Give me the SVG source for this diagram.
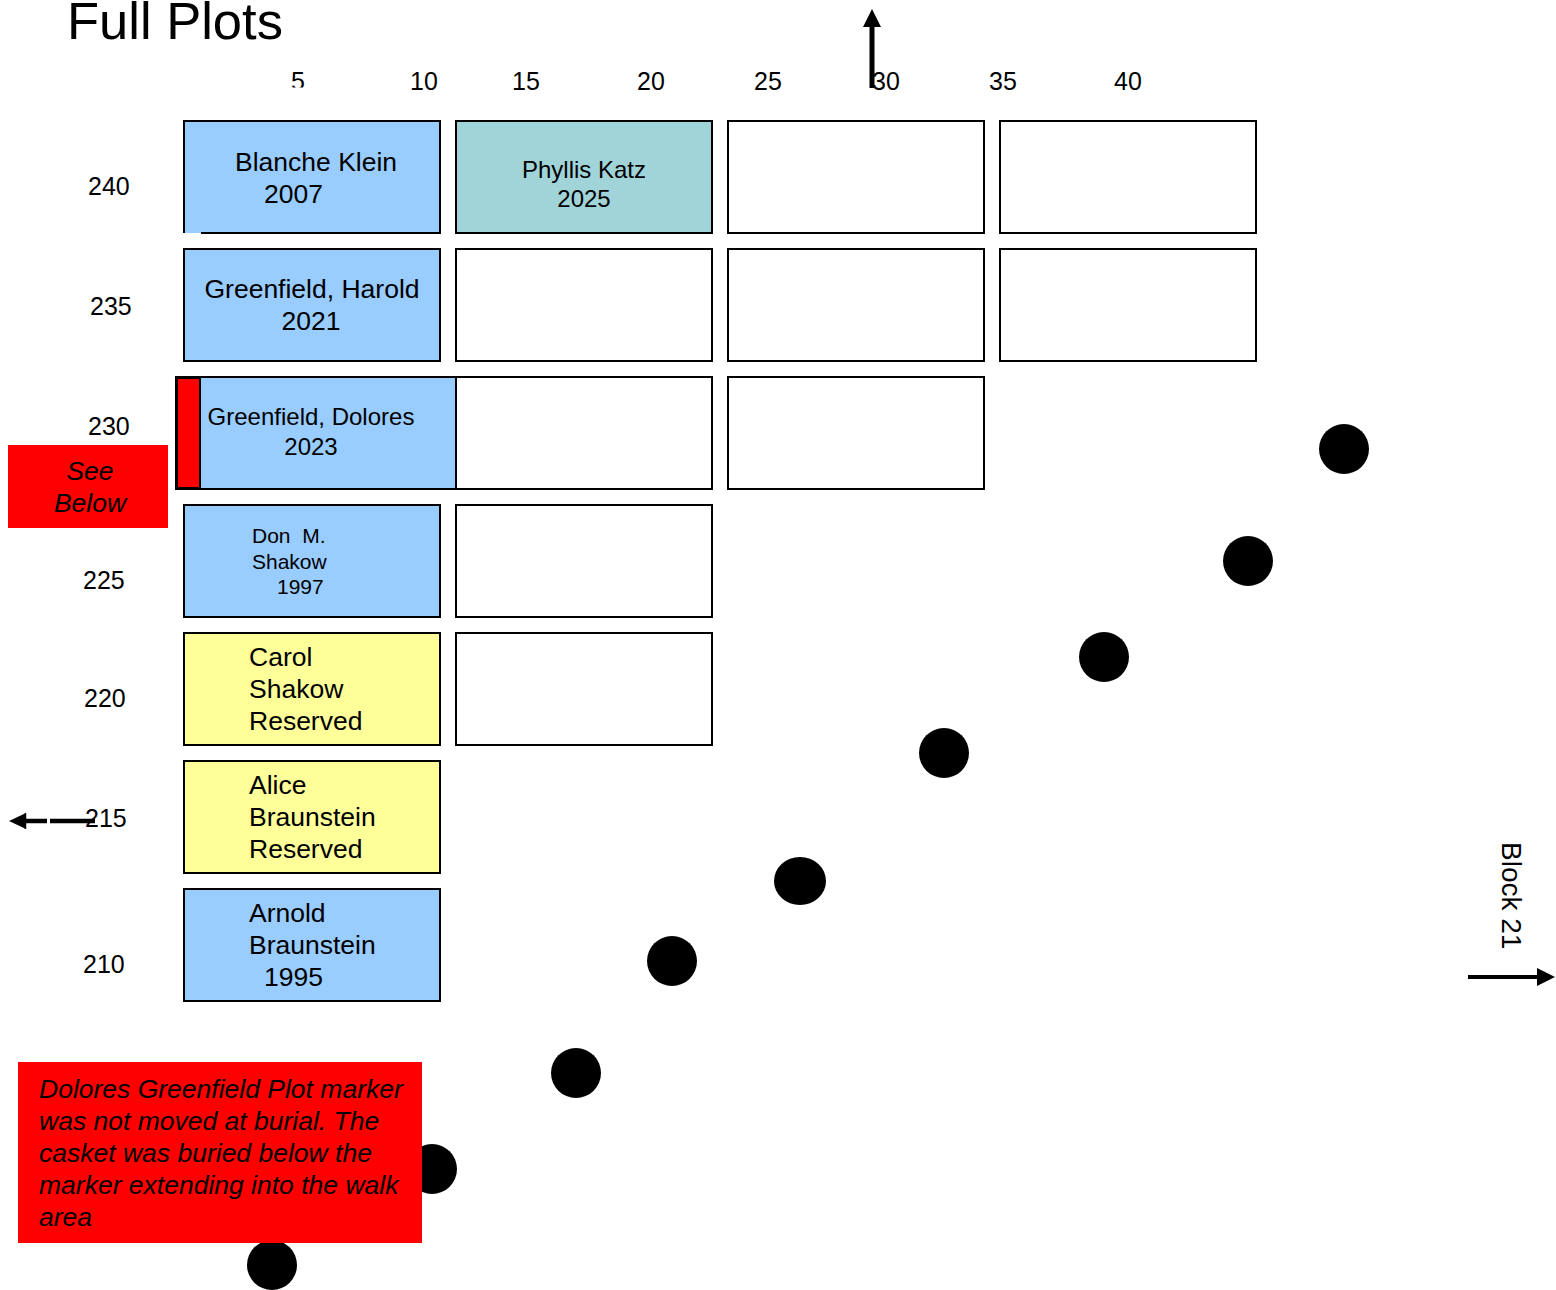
<svg xmlns="http://www.w3.org/2000/svg" width="1556" height="1290" viewBox="0 0 1556 1290">
<style>
text{font-family:"Liberation Sans",Arial,sans-serif;fill:#000}
.ax{font-size:25px}
.lab{font-size:26.5px}
.box{stroke:#000;stroke-width:2}
.blue{fill:#99ccff}
.teal{fill:#a0d4d8}
.yel{fill:#ffff99}
.empty{fill:#fff}
.dot{fill:#000}
.note{font-size:26.5px;font-style:italic}
</style>
<defs>
<clipPath id="clip5"><rect x="280" y="60" width="40" height="27.5"/></clipPath>
</defs>
<rect width="1556" height="1290" fill="#fff"/>
<text x="67" y="39" font-size="52.5">Full Plots</text>
<g id="xaxis" class="ax">
<text x="291" y="90" clip-path="url(#clip5)">5</text>
<text x="410" y="90">10</text>
<text x="512" y="90">15</text>
<text x="637" y="90">20</text>
<text x="754" y="90">25</text>
<text x="872" y="90">30</text>
<text x="989" y="90">35</text>
<text x="1114" y="90">40</text>
</g>
<g id="yaxis" class="ax">
<text x="88" y="195">240</text>
<text x="90" y="315">235</text>
<text x="88" y="435">230</text>
<text x="83" y="589">225</text>
<text x="84" y="707">220</text>
<text x="85" y="827">215</text>
<text x="83" y="973">210</text>
</g>
<g id="dots">
<circle class="dot" cx="1344" cy="449" r="25"/>
<circle class="dot" cx="1248" cy="561" r="25"/>
<circle class="dot" cx="1104" cy="657" r="25"/>
<circle class="dot" cx="944" cy="753" r="25"/>
<ellipse class="dot" cx="800" cy="881" rx="26" ry="24"/>
<circle class="dot" cx="672" cy="961" r="25"/>
<circle class="dot" cx="576" cy="1073" r="25"/>
<circle class="dot" cx="432" cy="1169" r="25"/>
<circle class="dot" cx="272" cy="1265" r="25"/>
</g>
<g id="plot-blanche-klein">
<rect class="blue" x="184" y="121" width="256" height="112"/>
<path d="M201 233 H440 V121 H184 V233" fill="none" stroke="#000" stroke-width="2"/>
<text class="lab" x="235" y="171">Blanche Klein</text>
<text class="lab" x="264" y="203">2007</text>
</g>
<g id="plot-phyllis-katz">
<rect class="box teal" x="456" y="121" width="256" height="112"/>
<text x="584" y="178" font-size="24" text-anchor="middle">Phyllis Katz</text>
<text x="584" y="207" font-size="24" text-anchor="middle">2025</text>
</g>
<g id="plot-r240-c3"><rect class="box empty" x="728" y="121" width="256" height="112"/></g>
<g id="plot-r240-c4"><rect class="box empty" x="1000" y="121" width="256" height="112"/></g>
<g id="plot-greenfield-harold">
<rect class="box blue" x="184" y="249" width="256" height="112"/>
<text class="lab" x="312" y="298" text-anchor="middle">Greenfield, Harold</text>
<text class="lab" x="311" y="330" text-anchor="middle">2021</text>
</g>
<g id="plot-r235-c2"><rect class="box empty" x="456" y="249" width="256" height="112"/></g>
<g id="plot-r235-c3"><rect class="box empty" x="728" y="249" width="256" height="112"/></g>
<g id="plot-r235-c4"><rect class="box empty" x="1000" y="249" width="256" height="112"/></g>
<g id="plot-greenfield-dolores">
<rect class="box blue" x="176" y="377" width="280" height="112"/>
<rect x="177" y="378" width="23" height="110" fill="#ff0000" stroke="#000" stroke-width="2"/>
<text x="311" y="425" font-size="24" text-anchor="middle">Greenfield, Dolores</text>
<text x="311" y="455" font-size="24" text-anchor="middle">2023</text>
</g>
<g id="plot-r230-c2"><rect class="box empty" x="456" y="377" width="256" height="112"/></g>
<g id="plot-r230-c3"><rect class="box empty" x="728" y="377" width="256" height="112"/></g>
<g id="plot-don-shakow">
<rect class="box blue" x="184" y="505" width="256" height="112"/>
<text x="252" y="543" font-size="21" xml:space="preserve">Don  M.</text>
<text x="252" y="569" font-size="21">Shakow</text>
<text x="277" y="594" font-size="21">1997</text>
</g>
<g id="plot-r225-c2"><rect class="box empty" x="456" y="505" width="256" height="112"/></g>
<g id="plot-carol-shakow">
<rect class="box yel" x="184" y="633" width="256" height="112"/>
<text class="lab" x="249" y="666">Carol</text>
<text class="lab" x="249" y="698">Shakow</text>
<text class="lab" x="249" y="730">Reserved</text>
</g>
<g id="plot-r220-c2"><rect class="box empty" x="456" y="633" width="256" height="112"/></g>
<g id="plot-alice-braunstein">
<rect class="box yel" x="184" y="761" width="256" height="112"/>
<text class="lab" x="249" y="794">Alice</text>
<text class="lab" x="249" y="826">Braunstein</text>
<text class="lab" x="249" y="858">Reserved</text>
</g>
<g id="plot-arnold-braunstein">
<rect class="box blue" x="184" y="889" width="256" height="112"/>
<text class="lab" x="249" y="922">Arnold</text>
<text class="lab" x="249" y="954">Braunstein</text>
<text class="lab" x="264" y="986">1995</text>
</g>
<g id="see-below">
<rect x="8" y="445" width="160" height="83" fill="#ff0000"/>
<text class="note" x="90" y="480" text-anchor="middle">See</text>
<text class="note" x="90" y="512" text-anchor="middle">Below</text>
</g>
<g id="note-dolores">
<rect x="18" y="1062" width="404" height="181" fill="#ff0000"/>
<text class="note" x="39" y="1098">Dolores Greenfield Plot marker</text>
<text class="note" x="39" y="1130">was not moved at burial. The</text>
<text class="note" x="39" y="1162">casket was buried below the</text>
<text class="note" x="39" y="1194">marker extending into the walk</text>
<text class="note" x="39" y="1226">area</text>
</g>
<g id="block21">
<text x="1502" y="842" font-size="28" transform="rotate(90 1502 842)">Block 21</text>
</g>
<g id="connectors">
<line x1="872" y1="88" x2="872" y2="26" stroke="#000" stroke-width="5"/>
<polygon points="863,27 881,27 872,9" fill="#000"/>
<line x1="1468" y1="977" x2="1538" y2="977" stroke="#000" stroke-width="4"/>
<polygon points="1537,968 1537,986 1555,977" fill="#000"/>
<line x1="26" y1="821" x2="47" y2="821" stroke="#000" stroke-width="4.5"/>
<line x1="50" y1="821" x2="95" y2="821" stroke="#000" stroke-width="4.5"/>
<line x1="25.5" y1="813" x2="25.5" y2="829" stroke="#000" stroke-width="1.5"/>
<polygon points="26,813 26,829 9,821" fill="#000"/>
</g>
</svg>
